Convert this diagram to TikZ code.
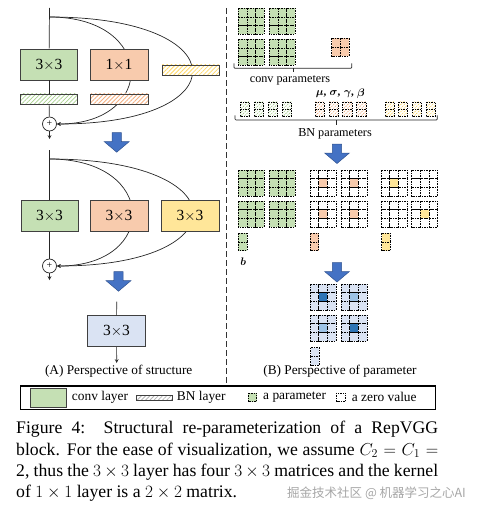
\documentclass[tikz,border=0pt]{standalone}
\usepackage{amsmath,bm}
\usepackage{fontspec}
\setmainfont{Liberation Serif}
\newfontfamily\cjk{Noto Sans CJK SC}
\usetikzlibrary{patterns.meta,backgrounds}

\definecolor{convgreen}{HTML}{C5E0B4}
\definecolor{convorange}{HTML}{F8CBAD}
\definecolor{convyellow}{HTML}{FFE699}
\definecolor{fusedblue}{HTML}{DAE3F3}
\definecolor{arrowblue}{HTML}{4472C4}
\definecolor{arrowedge}{HTML}{2F528F}
\definecolor{darkcell}{HTML}{2E75B6}
\definecolor{lightcell}{HTML}{9DC3E6}
\definecolor{hatchgreen}{HTML}{A9D18E}
\definecolor{hatchorange}{HTML}{F4B183}
\definecolor{hatchyellow}{HTML}{FFD966}
\definecolor{edgegray}{HTML}{404040}

% big blue arrow, top centre at (#1,#2)
\newcommand{\blockarrow}[2]{%
  \fill[arrowblue, draw=arrowedge, line width=0.5pt] (#1-4.7,#2) -- (#1+4.7,#2) -- (#1+4.7,#2+9) -- (#1+12.4,#2+9)
    -- (#1,#2+19.5) -- (#1-12.4,#2+9) -- (#1-4.7,#2+9) -- cycle;}
% grid of dashed cells: x, y, columns, rows, fill
\newcommand{\pgrid}[5]{%
  \foreach \gi in {1,...,#3}{\foreach \gj in {1,...,#4}{
    \draw[pcell, fill=#5] ({#1+(\gi-1)*\cs},{#2+(\gj-1)*\cs}) rectangle ++(\cs,\cs);}}}
% hatched BN vector: x, y, colour
\newcommand{\bnvec}[3]{%
  \draw[pcell, preaction={fill=white}, pattern={Lines[angle=45,distance=2.5pt,line width=0.6pt]}, pattern color=#3] (#1,#2) rectangle ++(9.3,14);
  \draw[pcell] (#1,#2+7) -- ++(9.3,0);}

\begin{document}
\begin{tikzpicture}[x=1pt,y=-1pt,
  wire/.style={line width=0.7pt, draw=black!85},
  layerbox/.style={draw=edgegray, line width=0.7pt, minimum width=57pt, minimum height=31pt, inner sep=0pt, font=\fontsize{15.5}{17}\selectfont},
  bnbar/.style={draw=edgegray, line width=0.6pt, minimum width=57pt, minimum height=10pt, inner sep=0pt,
    preaction={fill=white}, pattern={Lines[angle=45,distance=3pt,line width=0.8pt]}, pattern color=#1},
  addnode/.style={draw=black!85, line width=0.7pt, circle, minimum size=14pt, inner sep=0pt, fill=white, font=\fontsize{10}{10}\selectfont},
  pcell/.style={draw=black, line width=0.55pt, dash pattern=on 1.5pt off 1pt},
  caplbl/.style={font=\fontsize{13.3}{15}\selectfont},
  parlbl/.style={font=\fontsize{12.2}{14}\selectfont},
  leglbl/.style={anchor=west, inner sep=0pt, font=\fontsize{13.4}{15}\selectfont},
  symlbl/.style={inner sep=0pt, font=\fontsize{11}{12}\selectfont}]
\useasboundingbox (0,0) rectangle (492,516);
\def\cs{8.67}

% ---- (A) structure: training-time block
\coordinate (in1) at (49.5,8);
\coordinate (fork1) at (49.5,17);
\node[layerbox, fill=convgreen] (k3a) at (49,64.5) {3$\times$3};
\node[layerbox, fill=convorange, minimum width=58pt] (k1a) at (119,64.5) {1$\times$1};
\node[bnbar=hatchgreen] (bn3a) at (49,99) {};
\node[bnbar=hatchorange, minimum width=58pt] (bn1a) at (119,99) {};
\node[bnbar=hatchyellow] (bnida) at (190.5,70) {};
\node[addnode] (adda) at (49.5,124) {+};
\coordinate (outa) at (49.5,139);
\draw[wire] (in1) -- (k3a);
\draw[wire] (k3a) -- (bn3a);
\draw[wire] (bn3a) -- (adda);
\draw[wire, -stealth] (adda) -- (outa);
\begin{scope}[on background layer]
  \draw[wire, -stealth] (fork1) .. controls +(107,0) and +(100,0) .. (adda.east);
  \draw[wire, -stealth] (fork1) .. controls +(189,0) and +(182,0) .. (adda.east);
\end{scope}
\blockarrow{116.7}{132.7}

% ---- after fusing BN
\coordinate (in2) at (49.5,150);
\coordinate (fork2) at (49.5,159);
\node[layerbox, fill=convgreen] (k3b) at (49.5,216) {3$\times$3};
\node[layerbox, fill=convorange, minimum width=58pt] (k1b) at (119,216) {3$\times$3};
\node[layerbox, fill=convyellow, minimum width=58pt] (kidb) at (190,216) {3$\times$3};
\node[addnode] (addb) at (49.5,266) {+};
\coordinate (outb) at (49.5,280);
\draw[wire] (in2) -- (k3b);
\draw[wire] (k3b) -- (addb);
\draw[wire, -stealth] (addb) -- (outb);
\begin{scope}[on background layer]
  \draw[wire, -stealth] (fork2) .. controls +(109,0) and +(102,0) .. (addb.east);
  \draw[wire, -stealth] (fork2) .. controls +(190,0) and +(183,0) .. (addb.east);
\end{scope}
\blockarrow{118.5}{271.7}

% ---- inference block
\coordinate (in3) at (116.7,301.7);
\node[layerbox, fill=fusedblue, minimum width=57.6pt] (k3c) at (116.5,331.2) {3$\times$3};
\coordinate (outc) at (116.7,363);
\draw[wire] (in3) -- (k3c);
\draw[wire, -stealth] (k3c) -- (outc);
\node[caplbl] (capA) at (118.7,371.5) {(A) Perspective of structure};

% separator
\draw[line width=1.4pt, black!80, dash pattern=on 6pt off 3pt] (226.7,8) -- (226.7,385);

% ---- (B) parameters
\pgrid{238.3}{8.3}{3}{3}{convgreen}
\pgrid{269.3}{8.3}{3}{3}{convgreen}
\pgrid{238.3}{39.3}{3}{3}{convgreen}
\pgrid{269.3}{39.3}{3}{3}{convgreen}
\pgrid{331.7}{38.5}{2}{2}{convorange}
\draw[wire, rounded corners=1pt] (234,63.5) -- (234,68.3) -- (351.7,68.3) -- (351.7,63.5);
\draw[wire] (293.3,68.3) -- (293.3,72.5);
\node[parlbl] (convpar) at (290,80) {conv parameters};

\foreach \bx in {240,254.3,268.3,282.3}{\bnvec{\bx}{102}{hatchgreen}}
\foreach \bx in {315,329,342.7,356.7}{\bnvec{\bx}{102}{hatchorange}}
\foreach \bx in {385,398.3,412.3,426}{\bnvec{\bx}{102}{hatchyellow}}
\node[symlbl] (mu) at (321,94) {$\bm{\mu}$\textbf{,}};
\node[symlbl] (sigma) at (335,94) {$\bm{\sigma}$\textbf{,}};
\node[symlbl] (gamma) at (349,94.5) {$\bm{\gamma}$\textbf{,}};
\node[symlbl] (beta) at (361,93.5) {$\bm{\beta}$};
\draw[wire, rounded corners=1pt] (235,115.5) -- (235,120) -- (437.3,120) -- (437.3,115.5);
\draw[wire] (336,120) -- (336,125);
\node[parlbl] (bnpar) at (335,134) {BN parameters};
\blockarrow{337}{144}

% equivalent kernels and biases
\pgrid{238.3}{170}{3}{3}{convgreen}
\pgrid{269.3}{170}{3}{3}{convgreen}
\pgrid{238.3}{201}{3}{3}{convgreen}
\pgrid{269.3}{201}{3}{3}{convgreen}
\foreach \gx/\gy in {310/170,341/170,310/201,341/201}{
  \pgrid{\gx}{\gy}{3}{3}{white}
  \draw[pcell, fill=convorange] (\gx+\cs,\gy+\cs) rectangle ++(\cs,\cs);}
\foreach \gx/\gy in {381/170,411.7/170,381/201,411.7/201}{\pgrid{\gx}{\gy}{3}{3}{white}}
\draw[pcell, fill=convyellow] (381+\cs,170+\cs) rectangle ++(\cs,\cs);
\draw[pcell, fill=convyellow] (411.7+\cs,201+\cs) rectangle ++(\cs,\cs);
\pgrid{238.3}{233.3}{1}{2}{convgreen}
\pgrid{310}{233.3}{1}{2}{convorange}
\pgrid{381.7}{233.3}{1}{2}{convyellow}
\node[symlbl] (bias) at (243.3,261.5) {$\bm{b}$};
\blockarrow{337}{262.5}

% fused kernel
\foreach \gx/\gy/\cc in {310/284/darkcell,341/284/lightcell,310/315/lightcell,341/315/darkcell}{
  \pgrid{\gx}{\gy}{3}{3}{fusedblue}
  \draw[pcell, fill=\cc] (\gx+\cs,\gy+\cs) rectangle ++(\cs,\cs);}
\pgrid{310.7}{347.5}{1}{2}{fusedblue}
\node[caplbl] (capB) at (340,371.5) {(B) Perspective of parameter};

% ---- legend
\draw[line width=1.5pt] (20.7,386) rectangle (435.3,409.7);
\draw[draw=edgegray, line width=0.6pt, fill=convgreen] (30.7,388.5) rectangle (66,407);
\node[leglbl] (legconv) at (71.7,397) {conv layer};
\draw[draw=edgegray, line width=0.6pt, preaction={fill=white}, pattern={Lines[angle=45,distance=3pt,line width=0.8pt]}, pattern color=black!30] (136.7,395) rectangle (172.3,400.5);
\node[leglbl] (legbn) at (176.7,397) {BN layer};
\draw[pcell, fill=convgreen] (248,392.8) rectangle ++(8.7,8.7);
\node[leglbl] (legpar) at (263,397) {a parameter};
\draw[pcell, fill=white] (336.7,392.8) rectangle ++(8.7,8.7);
\node[leglbl] (legzero) at (351.7,397) {a zero value};

% ---- caption
\node[anchor=north west, inner sep=0pt, text width=422pt, align=justify, font=\fontsize{17.7}{21.3}\selectfont] (caption) at (16,421.2)
  {Figure 4:\ \ Structural re-parameterization of a RepVGG\linebreak
   block. For the ease of visualization, we assume $C_2=C_1=$\linebreak
   2, thus the $3\times3$ layer has four $3\times3$ matrices and the kernel\linebreak
   of $1\times1$ layer is a $2\times2$ matrix.};
\node[anchor=base west, inner sep=0pt, text=black!35, font=\cjk\fontsize{12.5}{14}\selectfont] (mark) at (287,497) {掘金技术社区 @ 机器学习之心AI};
\end{tikzpicture}
\end{document}
